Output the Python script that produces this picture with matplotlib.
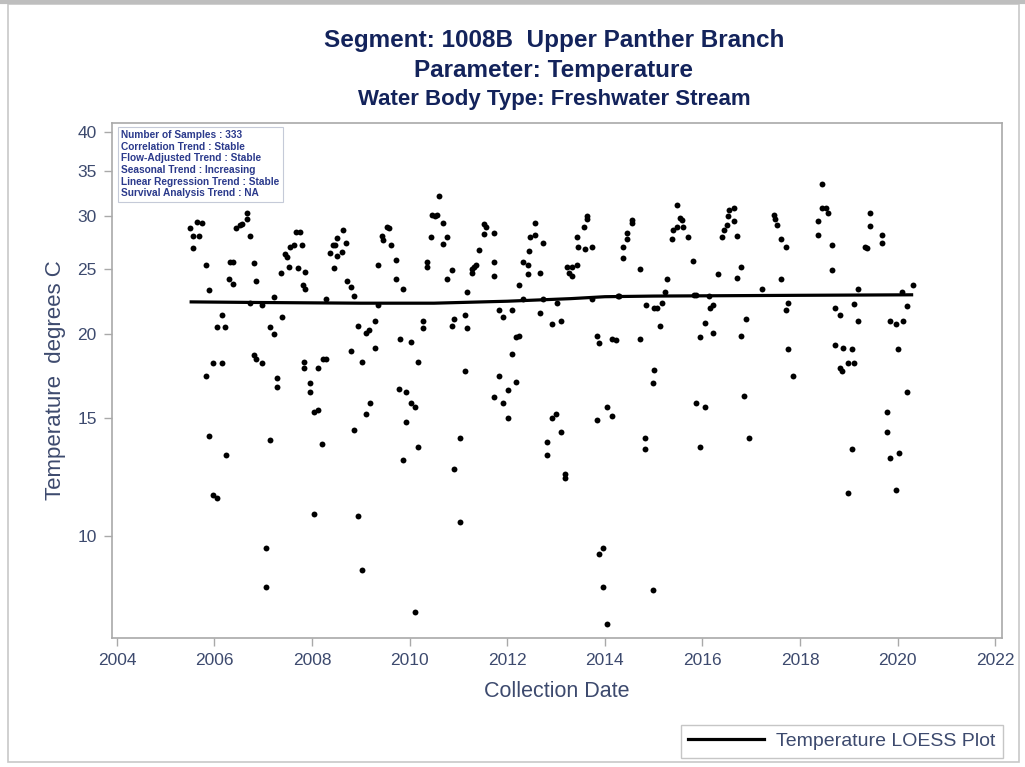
import matplotlib
matplotlib.use("Agg")
import matplotlib.pyplot as plt
from matplotlib.patches import Rectangle
from matplotlib.lines import Line2D
import numpy as np

# ---------------- data ----------------
dates = [
    2005.49, 2005.65, 2005.74, 2005.57, 2005.69, 2005.55, 2005.82, 2005.88, 2006.15, 2006.06,
    2006.21, 2005.96, 2006.15, 2005.82, 2005.88, 2006.23, 2005.96, 2006.06,
    2006.31, 2006.37, 2006.29, 2006.37, 2006.45, 2006.52, 2006.56, 2006.66, 2006.66, 2006.72,
    2006.82, 2006.86, 2006.72, 2006.80, 2006.86, 2006.97, 2006.97, 2007.13, 2007.05, 2007.05,
    2007.13, 2007.21, 2007.28, 2007.28, 2007.21, 2007.38, 2007.36,
    2007.44, 2007.48, 2007.54, 2007.62, 2007.67, 2007.75, 2007.79, 2007.52, 2007.71, 2007.85,
    2007.81, 2007.85, 2008.28, 2007.83, 2007.83, 2007.95, 2007.95, 2008.03, 2008.12, 2008.12,
    2008.22, 2008.28, 2008.20, 2008.03,
    2008.36, 2008.43, 2008.45, 2008.47, 2008.51, 2008.63, 2008.69, 2008.51, 2008.61, 2008.71,
    2008.80, 2008.86, 2009.35, 2008.94, 2009.10, 2009.16, 2009.29, 2008.80, 2009.02, 2009.29,
    2009.18, 2009.10, 2008.86, 2008.94, 2009.02,
    2009.35, 2009.43, 2009.45, 2009.53, 2009.58, 2009.62, 2009.72, 2009.72, 2009.86, 2009.80,
    2010.03, 2010.17, 2009.78, 2009.92, 2010.03, 2010.11, 2009.92, 2010.17, 2009.86, 2010.11,
    2010.27, 2010.27, 2010.36, 2010.36, 2010.46, 2010.52, 2010.56, 2010.60, 2010.68, 2010.77,
    2010.44, 2010.68, 2010.77, 2010.87, 2011.18, 2010.91, 2010.87, 2011.14, 2011.18, 2011.14,
    2011.03, 2010.91, 2011.03,
    2011.28, 2011.32, 2011.36, 2011.28, 2011.42, 2011.53, 2011.57, 2011.53, 2011.72, 2011.72,
    2011.73, 2011.73, 2011.83, 2011.92, 2012.10, 2011.83, 2012.02, 2012.18, 2011.92, 2012.02,
    2012.18, 2012.24, 2012.10, 2012.24, 2012.33,
    2012.33, 2012.43, 2012.43, 2012.45, 2012.47, 2012.57, 2012.57, 2012.74, 2012.68, 2012.74,
    2012.68, 2012.92, 2013.11, 2012.92, 2013.00, 2013.11, 2012.82, 2012.82, 2013.03, 2013.19,
    2013.19,
    2013.23, 2013.33, 2013.27, 2013.33, 2013.44, 2013.42, 2013.46, 2013.60, 2013.74, 2013.58,
    2013.64, 2013.64, 2013.74, 2013.83, 2013.89, 2014.15, 2014.22, 2013.83, 2014.05, 2014.15,
    2013.97, 2013.89, 2013.97, 2014.05,
    2014.26, 2014.30, 2014.38, 2014.38, 2014.46, 2014.46, 2014.56, 2014.56, 2014.73, 2014.73,
    2014.85, 2015.00, 2014.83, 2014.83, 2015.00, 2014.98, 2014.98,
    2015.06, 2015.14, 2015.18, 2015.24, 2015.28, 2015.37, 2015.39, 2015.47, 2015.47, 2015.55,
    2015.59, 2015.61, 2015.71, 2015.80, 2015.82, 2015.86, 2015.86, 2016.06, 2015.96, 2015.96,
    2016.06, 2016.21, 2016.13, 2016.15, 2016.21, 2016.31,
    2016.41, 2016.45, 2016.50, 2016.52, 2016.54, 2016.64, 2016.64, 2016.70, 2016.70, 2016.80,
    2016.89, 2016.80, 2016.86, 2016.95, 2017.23,
    2017.46, 2017.48, 2017.52, 2017.62, 2017.71, 2017.62, 2017.75, 2017.71, 2017.75, 2017.85,
    2018.45, 2018.45, 2018.53, 2018.57, 2018.36, 2018.36, 2018.65, 2018.65, 2018.71, 2018.82,
    2018.71, 2018.88, 2019.06, 2018.82, 2018.86, 2018.98, 2019.10, 2019.06, 2018.98, 2019.19,
    2019.10, 2019.19,
    2019.33, 2019.37, 2019.43, 2019.43, 2019.68, 2019.68, 2019.78, 2019.78, 2019.84, 2020.03,
    2019.97, 2019.84, 2019.97, 2020.11, 2020.01, 2020.19, 2020.09, 2020.19, 2020.32,
]
temps = [
    28.8, 29.4, 29.3, 28.0, 28.0, 26.9, 25.4, 23.3, 21.4, 20.5,
    20.5, 18.1, 18.1, 17.3, 14.1, 13.2, 11.5, 11.4,
    25.6, 25.6, 24.2, 23.8, 28.8, 29.1, 29.2, 29.7, 30.3, 28.0,
    25.5, 24.0, 22.3, 18.6, 18.4, 18.1, 22.1, 13.9, 9.6, 8.4,
    20.5, 20.0, 17.2, 16.7, 22.7, 21.2, 24.7,
    26.3, 26.1, 27.0, 27.2, 28.4, 28.4, 27.2, 25.2, 25.1, 24.8,
    23.7, 23.4, 22.6, 18.2, 17.8, 16.9, 16.4, 15.3, 15.4, 17.8,
    18.4, 18.4, 13.7, 10.8,
    26.4, 27.2, 25.1, 27.2, 27.8, 28.6, 27.4, 26.2, 26.5, 24.0,
    23.5, 22.8, 22.1, 20.6, 20.1, 20.3, 20.9, 18.9, 18.2, 19.1,
    15.8, 15.2, 14.4, 10.7, 8.9,
    25.4, 28.0, 27.6, 28.9, 28.8, 27.2, 25.8, 24.2, 23.4, 19.7,
    19.5, 18.2, 16.6, 16.4, 15.8, 15.6, 14.8, 13.6, 13.0, 7.7,
    20.9, 20.4, 25.6, 25.2, 30.1, 30.0, 30.1, 32.2, 29.3, 27.9,
    27.9, 27.3, 24.2, 24.9, 23.1, 21.1, 20.6, 21.4, 20.4, 17.6,
    14.0, 12.6, 10.5,
    24.7, 25.2, 25.4, 25.0, 26.7, 29.2, 28.9, 28.2, 28.3, 25.6,
    24.4, 16.1, 21.7, 21.2, 21.7, 17.3, 16.5, 17.0, 15.8, 15.0,
    19.8, 19.9, 18.7, 23.7, 22.6,
    25.6, 25.4, 24.6, 26.6, 27.9, 28.1, 29.3, 27.4, 24.7, 22.6,
    21.5, 20.7, 20.9, 15.0, 15.2, 14.3, 13.8, 13.2, 22.3, 12.4,
    12.2,
    25.2, 25.2, 24.7, 24.4, 25.4, 27.9, 27.0, 26.8, 27.0, 28.9,
    30.0, 29.7, 22.6, 19.9, 19.4, 19.7, 19.6, 14.9, 15.6, 15.1,
    9.6, 9.4, 8.4, 7.4,
    22.8, 22.8, 27.0, 26.0, 27.7, 28.3, 29.6, 29.3, 25.0, 19.7,
    22.1, 21.9, 14.0, 13.5, 17.7, 16.9, 8.3,
    21.9, 20.6, 22.3, 23.1, 24.2, 27.7, 28.6, 28.9, 31.2, 29.8,
    29.6, 28.9, 27.9, 25.7, 22.9, 22.9, 15.8, 15.6, 13.6, 19.8,
    20.8, 20.1, 22.8, 21.9, 22.1, 24.6,
    27.9, 28.6, 29.1, 30.0, 30.6, 30.8, 29.5, 28.0, 24.3, 25.2,
    21.1, 19.9, 16.2, 14.0, 23.4,
    30.1, 29.7, 29.1, 27.7, 27.0, 24.2, 22.3, 21.7, 19.0, 17.3,
    33.5, 30.9, 30.8, 30.3, 29.5, 28.1, 27.2, 24.9, 21.9, 21.4,
    19.3, 19.1, 19.0, 17.8, 17.6, 18.1, 18.1, 13.5, 11.6, 23.4,
    22.2, 20.9,
    27.0, 26.9, 30.3, 29.0, 28.1, 27.4, 15.3, 14.3, 13.1, 13.3,
    11.7, 20.9, 20.7, 20.9, 19.0, 16.4, 23.1, 22.0, 23.7,
]

loess_dates = [2005.49, 2007.0, 2009.0, 2010.5, 2012.0, 2013.3, 2014.0, 2015.0, 2016.0, 2018.0, 2020.32]
loess_temps = [22.35, 22.30, 22.25, 22.25, 22.40, 22.60, 22.75, 22.80, 22.82, 22.86, 22.90]

y_ticks = [10, 15, 20, 25, 30, 35, 40]
x_ticks = [2004, 2006, 2008, 2010, 2012, 2014, 2016, 2018, 2020, 2022]

titles = ["Segment: 1008B  Upper Panther Branch",
          "Parameter: Temperature",
          "Water Body Type: Freshwater Stream"]
info_lines = ["Number of Samples : 333",
              "Correlation Trend : Stable",
              "Flow-Adjusted Trend : Stable",
              "Seasonal Trend : Increasing",
              "Linear Regression Trend : Stable",
              "Survival Analysis Trend : NA"]

# ---------------- styling ----------------
plt.rcParams['font.family'] = ['Liberation Sans', 'DejaVu Sans']
TITLE_C = "#13235B"
TEXT_C = "#3D4A6E"
FRAME_C = "#A9A9A9"

W, H = 1025, 767
fig = plt.figure(figsize=(W / 100, H / 100), dpi=100)
fig.patch.set_facecolor("white")

# outer border
fig.add_artist(Rectangle((8 / W, 1 - 762 / H), (1019 - 8) / W, (762 - 4) / H,
                         transform=fig.transFigure, fill=False,
                         edgecolor="#C8C8C8", lw=1.2))
fig.add_artist(Line2D([0, 1], [1 - 2 / H, 1 - 2 / H], transform=fig.transFigure,
                      color="#BEBEBE", lw=3))

ax = fig.add_axes([112 / W, 1 - 638 / H, (1002 - 112) / W, (638 - 123) / H])
ax.set_yscale("log")
ax.set_xlim(2003.9, 2022.14)
ax.set_ylim(7.05, 41.3)

ax.scatter(dates, temps, s=18, color="black", zorder=3, linewidths=0)
ax.plot(loess_dates, loess_temps, color="black", lw=2.3, zorder=4,
        solid_capstyle="butt")

ax.set_yticks(y_ticks)
ax.set_yticklabels([str(v) for v in y_ticks])
ax.yaxis.set_minor_locator(matplotlib.ticker.NullLocator())
ax.set_xticks(x_ticks)
ax.set_xticklabels([str(v) for v in x_ticks])
ax.tick_params(axis="both", direction="out", length=6, width=1, color=FRAME_C,
               labelcolor=TEXT_C, labelsize=12.5, pad=5)
for sp in ax.spines.values():
    sp.set_color(FRAME_C)
    sp.set_linewidth(1.2)

ax.set_xlabel("Collection Date", fontsize=15.5, color=TEXT_C, labelpad=9)
ax.set_ylabel("Temperature  degrees C", fontsize=16, color=TEXT_C, labelpad=8)

# info box
ax.text(0.0105, 0.986, "\n".join(info_lines), transform=ax.transAxes,
        ha="left", va="top", fontsize=7.3, fontweight="bold", color="#2B3A8C",
        linespacing=1.2,
        bbox=dict(boxstyle="square,pad=0.35", facecolor="white", edgecolor="#C5CAD8", lw=0.8))

# titles
cx = 554 / W
fig.text(cx, 1 - 40 / H, titles[0], ha="center", va="center",
         fontsize=17.5, fontweight="bold", color=TITLE_C)
fig.text(cx, 1 - 70 / H, titles[1], ha="center", va="center",
         fontsize=17.5, fontweight="bold", color=TITLE_C)
fig.text(cx, 1 - 100 / H, titles[2], ha="center", va="center",
         fontsize=16, fontweight="bold", color=TITLE_C)

# legend
leg = fig.legend(handles=[Line2D([], [], color="black", lw=2.3)],
                 labels=["Temperature LOESS Plot"],
                 loc="lower right", bbox_to_anchor=(1003 / W, 1 - 758 / H),
                 borderaxespad=0.0,
                 frameon=True, fancybox=False, fontsize=14, handlelength=3.9,
                 borderpad=0.4, handletextpad=0.6, labelcolor=TEXT_C)
leg.get_frame().set_edgecolor("#B8B8B8")
leg.get_frame().set_linewidth(1.0)

fig.savefig("out.png", dpi=100, facecolor="white")
